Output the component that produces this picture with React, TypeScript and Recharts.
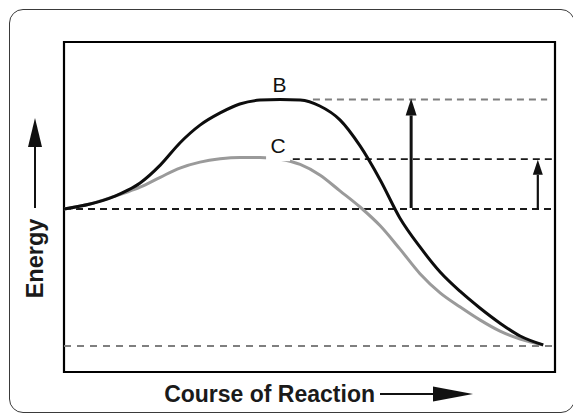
import React from "react";
import {
  LineChart,
  Line,
  XAxis,
  YAxis,
  ReferenceLine,
  ReferenceArea,
  ReferenceDot,
} from "recharts";

// Course of reaction (0 = start, 100 = end)
const progress = [
  0, 5.3, 10.4, 13.0, 15.5, 19.6, 23.6, 27.7, 31.8, 35.8, 39.9, 44.0, 48.1, 52.1,
  56.2, 60.3, 64.4, 68.4, 72.5, 76.6, 80.7, 84.7, 88.8, 92.9, 97.6,
];
// Energy of uncatalysed path (B)
const energyB = [
  49.4, 50.9, 53.3, 55.1, 57.3, 62.7, 69.4, 74.8, 78.5, 81.2, 82.4, 82.6, 82.4, 80.6,
  76.4, 68.5, 58.2, 46.7, 37.9, 30.3, 24.4, 19.4, 14.8, 10.9, 8.2,
];
// Energy of catalysed path (C)
const energyC = [
  49.4, 50.9, 53.3, 54.6, 56.0, 59.0, 61.8, 63.6, 64.6, 65.0, 65.0, 64.5, 62.9, 59.7,
  54.9, 50.0, 44.3, 37.3, 29.8, 24.0, 19.7, 15.8, 12.4, 10.0, 8.2,
];

const reactantLevel = 49.4;
const peakB = 82.6;
const peakC = 64.5;
const productLevel = 7.9;
const labelB = "B";
const labelC = "C";
const xTitle = "Course of Reaction";
const yTitle = "Energy";

const data = progress.map((p, i) => ({ x: p, b: energyB[i], c: energyC[i] }));

const FONT = "'Liberation Sans', Arial, Helvetica, sans-serif";

const makeArrow = (headLen: number, headW: number) => (props: any) => {
  const { x1, y1, x2, y2, stroke, strokeWidth } = props;
  const dx = x2 - x1;
  const dy = y2 - y1;
  const len = Math.hypot(dx, dy) || 1;
  const ux = dx / len;
  const uy = dy / len;
  const bx = x2 - ux * headLen;
  const by = y2 - uy * headLen;
  const px = -uy;
  const py = ux;
  return (
    <g>
      <line x1={x1} y1={y1} x2={bx} y2={by} stroke={stroke} strokeWidth={strokeWidth} />
      <polygon
        points={`${x2},${y2} ${bx + (px * headW) / 2},${by + (py * headW) / 2} ${bx - (px * headW) / 2},${by - (py * headW) / 2}`}
        fill={stroke}
      />
    </g>
  );
};

const makeLetter = (text: string, dy: number, bg: boolean) => (props: any) => {
  const vb = props.viewBox || {};
  const cx = vb.x + (vb.width || 0) / 2;
  const cy = vb.y + (vb.height || 0) / 2;
  return (
    <g>
      {bg && <rect x={cx - 12} y={cy - 24} width={24} height={26} fill="#fff" />}
      <text
        x={cx}
        y={cy + dy}
        textAnchor="middle"
        fontFamily={FONT}
        fontSize={21}
        fill="#111"
      >
        {text}
      </text>
    </g>
  );
};

const XTitle = (props: any) => {
  const vb = props.viewBox || { x: 64, y: 372, width: 491, height: 42 };
  const endX = vb.x + 311;
  const baseY = vb.y + 29.5;
  const ay = vb.y + 22;
  return (
    <g>
      <text
        x={endX}
        y={baseY}
        textAnchor="end"
        fontFamily={FONT}
        fontWeight="bold"
        fontSize={23}
        fill="#1a1a1a"
      >
        {xTitle}
      </text>
      <line x1={endX + 5} y1={ay} x2={endX + 60} y2={ay} stroke="#111" strokeWidth={2} />
      <polygon
        points={`${endX + 98},${ay} ${endX + 58},${ay - 7.5} ${endX + 58},${ay + 7.5}`}
        fill="#111"
      />
    </g>
  );
};

const YTitle = (props: any) => {
  const vb = props.viewBox || { x: 0, y: 42, width: 64, height: 330 };
  const cx = vb.x + 43;
  const cy = vb.y + 216.5;
  const ax = vb.x + 35;
  return (
    <g>
      <text
        x={cx}
        y={cy}
        transform={`rotate(-90 ${cx} ${cy})`}
        textAnchor="middle"
        fontFamily={FONT}
        fontWeight="bold"
        fontSize={23.5}
        fill="#1a1a1a"
      >
        {yTitle}
      </text>
      <line x1={ax} y1={vb.y + 166} x2={ax} y2={vb.y + 103} stroke="#111" strokeWidth={2} />
      <polygon
        points={`${ax},${vb.y + 76} ${ax - 7},${vb.y + 105} ${ax + 7},${vb.y + 105}`}
        fill="#111"
      />
    </g>
  );
};

export default function App() {
  return (
    <div style={{ position: "absolute", left: 0, top: 0, width: 573, height: 414, background: "#fff" }}>
      <div
        style={{
          position: "absolute",
          left: 9,
          top: 9,
          width: 566,
          height: 404,
          boxSizing: "border-box",
          border: "1.6px solid #3a3a3a",
          borderRadius: 14,
        }}
      />
      <div style={{ position: "absolute", left: 0, top: 0 }}>
        <LineChart
          width={573}
          height={414}
          data={data}
          margin={{ top: 42, right: 18, bottom: 0, left: 0 }}
        >
          <XAxis
            dataKey="x"
            type="number"
            domain={[0, 100]}
            allowDataOverflow
            axisLine={false}
            tickLine={false}
            tick={false}
            height={42}
            label={{ content: XTitle }}
          />
          <YAxis
            type="number"
            domain={[0, 100]}
            allowDataOverflow
            axisLine={false}
            tickLine={false}
            tick={false}
            width={64}
            label={{ content: YTitle }}
          />
          <ReferenceLine
            segment={[{ x: 50.7, y: peakB }, { x: 98.4, y: peakB }]}
            stroke="#7f7f7f"
            strokeWidth={2}
            strokeDasharray="7 5"
          />
          <ReferenceLine
            segment={[{ x: 46.6, y: peakC }, { x: 99.6, y: peakC }]}
            stroke="#1a1a1a"
            strokeWidth={1.8}
            strokeDasharray="7 5"
          />
          <ReferenceLine
            segment={[{ x: 0, y: reactantLevel }, { x: 100, y: reactantLevel }]}
            stroke="#1a1a1a"
            strokeWidth={1.8}
            strokeDasharray="7 5"
          />
          <ReferenceLine
            segment={[{ x: 0, y: productLevel }, { x: 99.6, y: productLevel }]}
            stroke="#7f7f7f"
            strokeWidth={2}
            strokeDasharray="7 6"
          />
          <ReferenceLine
            segment={[{ x: 70.7, y: reactantLevel + 0.3 }, { x: 70.7, y: peakB + 0.3 }]}
            stroke="#111"
            strokeWidth={3}
            shape={makeArrow(17, 11)}
          />
          <ReferenceLine
            segment={[{ x: 96.5, y: reactantLevel }, { x: 96.5, y: peakC - 0.2 }]}
            stroke="#111"
            strokeWidth={2.2}
            shape={makeArrow(15, 10)}
          />
          <Line
            type="monotone"
            dataKey="c"
            stroke="#9a9a9a"
            strokeWidth={3}
            dot={false}
            activeDot={false}
            isAnimationActive={false}
          />
          <Line
            type="monotone"
            dataKey="b"
            stroke="#0d0d0d"
            strokeWidth={3}
            dot={false}
            activeDot={false}
            isAnimationActive={false}
          />
          <ReferenceDot
            x={43.9}
            y={peakB}
            r={1}
            fill="none"
            stroke="none"
            label={{ content: makeLetter(labelB, -7.5, false) }}
          />
          <ReferenceDot
            x={43.6}
            y={peakC}
            r={1}
            fill="none"
            stroke="none"
            label={{ content: makeLetter(labelC, -6, true) }}
          />
          <ReferenceArea
            x1={0}
            x2={100}
            y1={0}
            y2={100}
            fill="none"
            fillOpacity={0}
            stroke="#000"
            strokeWidth={2.2}
          />
        </LineChart>
      </div>
    </div>
  );
}
